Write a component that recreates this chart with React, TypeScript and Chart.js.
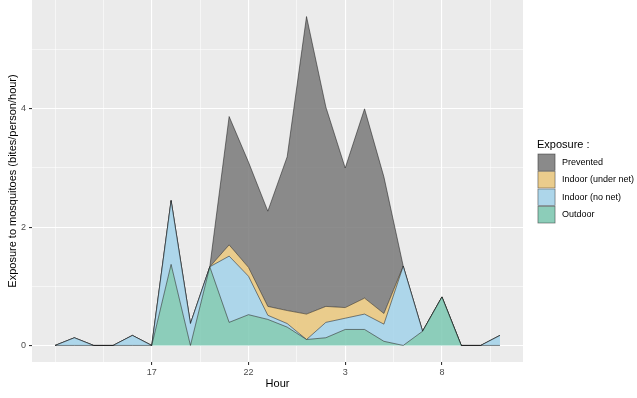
import React, { useEffect, useRef } from "react";
import { Chart, registerables } from "chart.js";

Chart.register(...registerables);

// Hour of day for each observation (12:00 through 11:00 next day)
const hours = [12, 13, 14, 15, 16, 17, 18, 19, 20, 21, 22, 23, 0, 1, 2, 3, 4, 5, 6, 7, 8, 9, 10, 11];

const outdoor = [0, 0, 0, 0, 0, 0, 1.37, 0, 1.33, 0.39, 0.52, 0.44, 0.31, 0.1, 0.13, 0.27, 0.27, 0.07, 0, 0.24, 0.82, 0, 0, 0];
const indoorNoNet = [0, 0.13, 0, 0, 0.17, 0, 1.08, 0.37, 0, 1.12, 0.65, 0.07, 0.06, 0, 0.26, 0.19, 0.26, 0.29, 1.34, 0, 0, 0, 0, 0.17];
const indoorUnderNet = [0, 0, 0, 0, 0, 0, 0, 0, 0, 0.19, 0.15, 0.15, 0.22, 0.43, 0.27, 0.18, 0.27, 0.18, 0, 0, 0, 0, 0, 0];
const prevented = [0, 0, 0, 0, 0, 0, 0, 0, 0, 2.17, 1.78, 1.61, 2.6, 5.03, 3.37, 2.36, 3.2, 2.31, 0, 0, 0, 0, 0, 0];

const seriesLabels = ["Outdoor", "Indoor (no net)", "Indoor (under net)", "Prevented"];
const seriesColors = [
  "rgba(123,200,177,0.85)",
  "rgba(162,210,234,0.85)",
  "rgba(234,199,123,0.85)",
  "rgba(121,121,121,0.85)",
];
const legendColors = ["#8CCDB9", "#ADD6EA", "#EACC8C", "#8A8A8A"];

const xTickLabels = ["17", "22", "3", "8"];
const yTickValues = [0, 1, 2, 3, 4, 5];
const yTickLabels = ["0", "", "2", "", "4", ""];

const legendTitle = "Exposure :";
const xTitle = "Hour";
const yTitle = "Exposure to mosquitoes (bites/person/hour)";

const FONT = "'Liberation Sans', Arial, Helvetica, sans-serif";

export default function App() {
  const ref = useRef<HTMLCanvasElement | null>(null);

  useEffect(() => {
    if (!ref.current) return;
    const xs = hours.map((_, i) => 12 + i);
    const majorX: number[] = [];
    xs.forEach((x, i) => {
      if (xTickLabels.includes(String(hours[i]))) majorX.push(x);
    });
    const gridX: number[] = [];
    for (let v = xs[0]; v <= xs[xs.length - 1]; v += 2.5) gridX.push(v);

    const all = [outdoor, indoorNoNet, indoorUnderNet, prevented];
    const datasets = all.map((arr, k) => ({
      label: seriesLabels[k],
      data: arr.map((y, i) => ({ x: xs[i], y })),
      backgroundColor: seriesColors[k],
      borderColor: "rgba(20,20,20,0.85)",
      borderWidth: 0.6,
      pointRadius: 0,
      tension: 0,
      fill: k === 0 ? "origin" : "-1",
    }));

    const bgPlugin = {
      id: "panelBg",
      beforeDraw(chart: any) {
        const { ctx, chartArea } = chart;
        ctx.save();
        ctx.fillStyle = "#EBEBEB";
        ctx.fillRect(chartArea.left, chartArea.top, chartArea.right - chartArea.left, chartArea.bottom - chartArea.top);
        ctx.restore();
      },
      afterDraw(chart: any) {
        const { ctx, chartArea } = chart;
        ctx.save();
        ctx.fillStyle = "#000";
        ctx.font = `11px ${FONT}`;
        ctx.textAlign = "center";
        ctx.textBaseline = "middle";
        ctx.fillText(xTitle, (chartArea.left + chartArea.right) / 2, 384);
        ctx.save();
        ctx.translate(13, (chartArea.top + chartArea.bottom) / 2);
        ctx.rotate(-Math.PI / 2);
        ctx.fillText(yTitle, 0, 0);
        ctx.restore();
        ctx.textAlign = "left";
        ctx.fillText(legendTitle, 537, 145);
        const order = [3, 2, 1, 0];
        const keyTop = 153.5;
        const keyH = 17.5;
        ctx.font = `9px ${FONT}`;
        order.forEach((k, j) => {
          const y = keyTop + j * keyH;
          ctx.fillStyle = "#EBEBEB";
          ctx.fillRect(537, y, 19, keyH);
          ctx.fillStyle = legendColors[k];
          ctx.fillRect(538, y + 0.5, 17, keyH - 1);
          ctx.strokeStyle = "rgba(0,0,0,0.55)";
          ctx.lineWidth = 0.6;
          ctx.strokeRect(538, y + 0.5, 17, keyH - 1);
          ctx.fillStyle = "#000";
          ctx.fillText(chart.data.datasets[k].label, 562, y + keyH / 2);
        });
        ctx.restore();
      },
    };

    const chart = new Chart(ref.current, {
      type: "line",
      data: { datasets },
      options: {
        animation: false,
        responsive: false,
        maintainAspectRatio: false,
        layout: { padding: { left: 0, right: 114, top: 0, bottom: 0 } },
        plugins: { legend: { display: false }, tooltip: { enabled: false } },
        elements: { line: { borderJoinStyle: "miter" } },
        scales: {
          x: {
            type: "linear",
            min: 10.81,
            max: 36.19,
            border: { display: false },
            afterFit(scale: any) {
              scale.height = 36;
              scale.paddingLeft = 0;
              scale.paddingRight = 0;
            },
            afterBuildTicks(scale: any) {
              scale.ticks = gridX.map((v) => ({ value: v }));
            },
            grid: {
              color: "#FFFFFF",
              lineWidth: (c: any) => (majorX.includes(c.tick?.value) ? 1.1 : 0.55),
              tickColor: (c: any) => (majorX.includes(c.tick?.value) ? "#333333" : "rgba(0,0,0,0)"),
              tickLength: 3,
              drawTicks: true,
            },
            ticks: {
              autoSkip: false,
              maxRotation: 0,
              padding: 2,
              color: "#4D4D4D",
              font: { size: 9, family: FONT },
              callback: (v: any) => {
                const idx = xs.indexOf(Number(v));
                if (idx >= 0 && majorX.includes(Number(v))) return String(hours[idx]);
                return "";
              },
            },
          },
          y: {
            type: "linear",
            stacked: true,
            min: -0.28,
            max: 5.84,
            border: { display: false },
            afterFit(scale: any) {
              scale.width = 32;
              scale.paddingTop = 0;
              scale.paddingBottom = 0;
            },
            afterBuildTicks(scale: any) {
              scale.ticks = yTickValues.map((v) => ({ value: v }));
            },
            grid: {
              color: "#FFFFFF",
              lineWidth: (c: any) => (yTickLabels[yTickValues.indexOf(c.tick?.value)] ? 1.1 : 0.55),
              tickColor: (c: any) => (yTickLabels[yTickValues.indexOf(c.tick?.value)] ? "#333333" : "rgba(0,0,0,0)"),
              tickLength: 3,
              drawTicks: true,
            },
            ticks: {
              padding: 3,
              color: "#4D4D4D",
              font: { size: 9, family: FONT },
              callback: (v: any) => {
                const i = yTickValues.indexOf(Number(v));
                return i >= 0 ? yTickLabels[i] : "";
              },
            },
          },
        },
      },
      plugins: [bgPlugin],
    } as any);

    return () => chart.destroy();
  }, []);

  return (
    <div style={{ position: "fixed", left: 0, top: 0, width: 637, height: 398, background: "#FFFFFF" }}>
      <canvas ref={ref} width={637} height={398} style={{ display: "block" }} />
    </div>
  );
}
